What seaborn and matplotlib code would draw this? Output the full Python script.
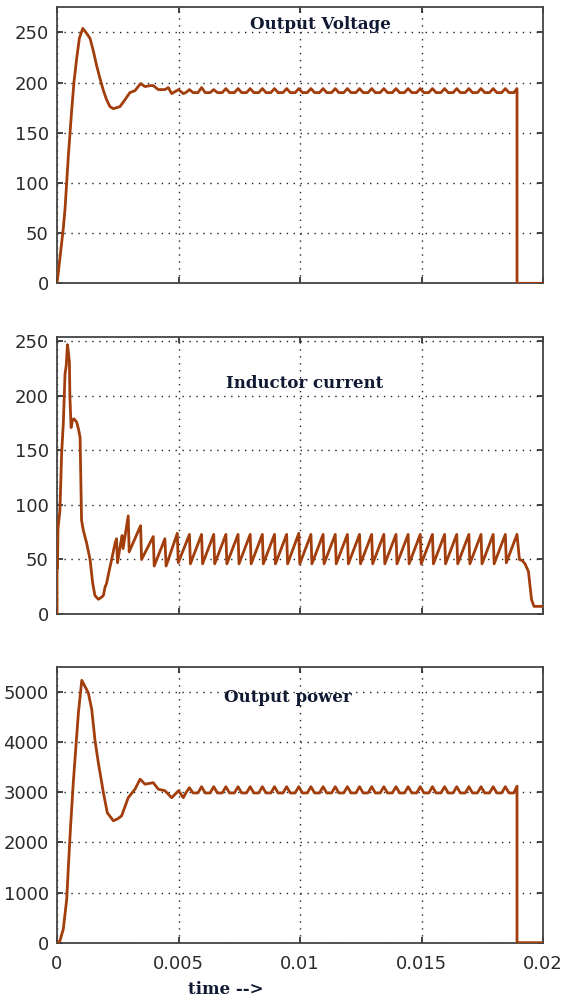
import matplotlib
matplotlib.use("Agg")
import matplotlib.pyplot as plt
import seaborn as sns

# ---- data ----
# start-up transient (time in s)
volt_t0 = [0, 0.00005, 0.00012, 0.00026, 0.00033, 0.00040, 0.00047, 0.00053, 0.00060,
           0.00070, 0.00081, 0.00092, 0.00106, 0.00122, 0.00136, 0.00149, 0.00163,
           0.00177, 0.00191, 0.00204, 0.00218, 0.00232, 0.00245, 0.00259, 0.00280,
           0.00300, 0.00321, 0.00344, 0.00362, 0.00383, 0.00396, 0.00417, 0.00444,
           0.00458, 0.00472, 0.00500, 0.00520]
volt_v0 = [0, 10, 25, 55, 74, 101, 128, 148, 171,
           201, 224, 244, 254, 249, 244, 232, 217,
           204, 192, 183, 176, 174, 175, 176, 183,
           190, 192, 199, 196, 197, 197, 193, 193,
           195, 189, 193, 189]

power_t0 = [0, 0.00005, 0.00012, 0.00026, 0.00040, 0.00047, 0.00056, 0.00067, 0.00078,
            0.00088, 0.00102, 0.00115, 0.00129, 0.00143, 0.00156, 0.00170, 0.00191,
            0.00207, 0.00232, 0.00250, 0.00266, 0.00293, 0.00321, 0.00342, 0.00362,
            0.00396, 0.00417, 0.00444, 0.00472, 0.00500, 0.00520]
power_p0 = [0, 10, 35, 273, 869, 1534, 2330, 3190, 3920,
            4580, 5230, 5110, 4980, 4650, 4050, 3590, 2990,
            2590, 2430, 2470, 2530, 2890, 3060, 3260, 3160,
            3190, 3060, 3030, 2890, 3030, 2890]

# steady-state ripple (shared time base for voltage and power)
ripple_t = [0.00530, 0.00545, 0.00560, 0.00580, 0.00595, 0.00610, 0.00630, 0.00645, 0.00660,
            0.00680, 0.00695, 0.00710, 0.00730, 0.00745, 0.00760, 0.00780, 0.00795, 0.00810,
            0.00830, 0.00845, 0.00860, 0.00880, 0.00895, 0.00910, 0.00930, 0.00945, 0.00960,
            0.00980, 0.00995, 0.01010, 0.01030, 0.01045, 0.01060, 0.01080, 0.01095, 0.01110,
            0.01130, 0.01145, 0.01160, 0.01180, 0.01195, 0.01210, 0.01230, 0.01245, 0.01260,
            0.01280, 0.01295, 0.01310, 0.01330, 0.01345, 0.01360, 0.01380, 0.01395, 0.01410,
            0.01430, 0.01445, 0.01460, 0.01480, 0.01495, 0.01510, 0.01530, 0.01545, 0.01560,
            0.01580, 0.01595, 0.01610, 0.01630, 0.01645, 0.01660, 0.01680, 0.01695, 0.01710,
            0.01730, 0.01745, 0.01760, 0.01780, 0.01795, 0.01810, 0.01830, 0.01845, 0.01860,
            0.01880, 0.01893, 0.01893, 0.02]
volt_ripple = [190, 193, 190, 190, 195, 190, 190, 193, 190,
               190, 194, 190, 190, 194, 190, 190, 194, 190,
               190, 194, 190, 190, 194, 190, 190, 194, 190,
               190, 194, 190, 190, 194, 190, 190, 194, 190,
               190, 194, 190, 190, 194, 190, 190, 194, 190,
               190, 194, 190, 190, 194, 190, 190, 194, 190,
               190, 194, 190, 190, 194, 190, 190, 194, 190,
               190, 194, 190, 190, 194, 190, 190, 194, 190,
               190, 194, 190, 190, 194, 190, 190, 194, 190,
               190, 194, 0, 0]
power_ripple = [2985, 3090, 2985, 2985, 3110, 2985, 2985, 3110, 2985,
                2985, 3110, 2985, 2985, 3110, 2985, 2985, 3110, 2985,
                2985, 3110, 2985, 2985, 3110, 2985, 2985, 3110, 2985,
                2985, 3110, 2985, 2985, 3110, 2985, 2985, 3110, 2985,
                2985, 3110, 2985, 2985, 3110, 2985, 2985, 3110, 2985,
                2985, 3110, 2985, 2985, 3110, 2985, 2985, 3110, 2985,
                2985, 3110, 2985, 2985, 3110, 2985, 2985, 3110, 2985,
                2985, 3110, 2985, 2985, 3110, 2985, 2985, 3110, 2985,
                2985, 3110, 2985, 2985, 3110, 2985, 2985, 3110, 2985,
                2985, 3120, 0, 0]

cur_t = [0, 0, 0.00002, 0.00004, 0.00012, 0.00019, 0.00026, 0.00033, 0.00038, 0.00043,
         0.00047, 0.00051, 0.00053, 0.00058, 0.00064, 0.00070, 0.00081, 0.00088, 0.00095,
         0.00101, 0.00108, 0.00122, 0.00136, 0.00147, 0.00156, 0.00170, 0.00181, 0.00191,
         0.00198, 0.00204, 0.00215, 0.00225, 0.00239, 0.00245, 0.00249, 0.00262, 0.00268,
         0.00272, 0.00293, 0.00297, 0.00344, 0.00348, 0.00396, 0.00400, 0.00444, 0.00449,
         0.00495, 0.00499, 0.00545, 0.00549, 0.00595, 0.00599, 0.00645, 0.00649,
         0.00695, 0.00699, 0.00745, 0.00749, 0.00795, 0.00799, 0.00845, 0.00849,
         0.00895, 0.00899, 0.00945, 0.00949, 0.00995, 0.00999, 0.01045, 0.01049,
         0.01095, 0.01099, 0.01145, 0.01149, 0.01195, 0.01199, 0.01245, 0.01249,
         0.01295, 0.01299, 0.01345, 0.01349, 0.01395, 0.01399, 0.01445, 0.01449,
         0.01495, 0.01499, 0.01545, 0.01549, 0.01595, 0.01599, 0.01645, 0.01649,
         0.01695, 0.01699, 0.01745, 0.01749, 0.01795, 0.01799, 0.01845, 0.01849,
         0.01893, 0.01903, 0.01915, 0.01926, 0.01940, 0.01947, 0.01953, 0.01963, 0.02]
cur_i = [0, 78, 42, 78, 95, 147, 175, 220, 228, 247,
         240, 231, 200, 171, 178, 179, 176, 170, 162,
         86, 77, 65, 50, 28, 17, 13.5, 15, 17,
         25, 28, 40, 50, 65, 69, 47, 65, 72,
         60, 90, 57, 81, 50, 71, 44, 69, 44,
         74, 47, 73, 46, 73, 46, 73, 46,
         73, 46, 73, 46, 73, 46, 73, 46,
         73, 46, 73, 46, 74, 46, 73, 46,
         73, 46, 73, 46, 73, 46, 73, 46,
         73, 46, 73, 46, 73, 46, 73, 46,
         73, 46, 73, 46, 73, 46, 73, 46,
         73, 46, 73, 46, 73, 46, 73, 47,
         73, 50, 49, 46, 39, 25, 13, 7, 7]

x_ticks = [0, 0.005, 0.01, 0.015, 0.02]
x_ticklabels = ["0", "0.005", "0.01", "0.015", "0.02"]
volt_ticks = [0, 50, 100, 150, 200, 250]
cur_ticks = [0, 50, 100, 150, 200, 250]
power_ticks = [0, 1000, 2000, 3000, 4000, 5000]

sns.set_theme(style="white")
plt.rcParams["font.family"] = ["DejaVu Sans"]

trace = "#a23d0c"
title_kw = dict(family="DejaVu Serif", fontweight="bold", fontsize=12, color="#111a33",
                ha="center", va="center")

fig = plt.figure(figsize=(5.66, 10.01), dpi=100)
W = 566
H = 1001
panels = [
    (volt_t0 + ripple_t, volt_v0 + volt_ripple, 7.3, 283.3, (0, 275), volt_ticks,
     "Output Voltage", (0.541, 0.936)),
    (cur_t, cur_i, 336.5, 614, (0, 254.5), cur_ticks,
     "Inductor current", (0.510, 0.831)),
    (power_t0 + ripple_t, power_p0 + power_ripple, 667.3, 942.7, (0, 5490), power_ticks,
     "Output power", (0.476, 0.889)),
]

for k, (tx, ty, top, bot, ylim, yt, title, tpos) in enumerate(panels):
    ax = fig.add_axes([57 / W, 1 - bot / H, 486 / W, (bot - top) / H])
    sns.lineplot(x=tx, y=ty, ax=ax, color=trace, linewidth=2.0,
                 estimator=None, sort=False, zorder=3)
    ax.set_xlim(0, 0.02)
    ax.set_ylim(*ylim)
    ax.set_xticks(x_ticks)
    ax.set_yticks(yt)
    ax.set_yticklabels([str(v) for v in yt])
    if k == 2:
        ax.set_xticklabels(x_ticklabels)
    else:
        ax.set_xticklabels([])
    ax.grid(True, color="#222222", linestyle=(0, (1, 4)), linewidth=1.0)
    ax.tick_params(direction="in", length=4, width=1.3, color="#333333",
                   top=True, right=True, bottom=True, left=True,
                   labelsize=13, labelcolor="#2a2a2a")
    ax.tick_params(axis="y", pad=6)
    ax.tick_params(axis="x", pad=9)
    for s in ax.spines.values():
        s.set_color("#444444")
        s.set_linewidth(1.3)
    ax.set_xlabel("")
    ax.set_ylabel("")
    ax.text(tpos[0], tpos[1], title, transform=ax.transAxes, **title_kw)

fig.text(226 / W, 1 - 990 / H, "time -->", **title_kw)

fig.savefig("out.png", dpi=100)
